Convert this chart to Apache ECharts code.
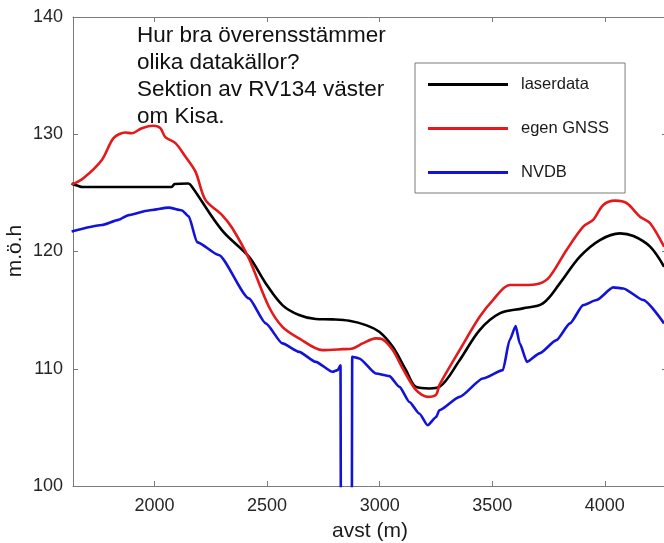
<!DOCTYPE html>
<html>
<head>
<meta charset="utf-8">
<script src="https://cdn.jsdelivr.net/npm/echarts@6/dist/echarts.min.js"></script>
<style>
  html, body { margin: 0; padding: 0; background: #fff; }
  #chart { width: 664px; height: 543px; }
</style>
</head>
<body>
<div id="chart"></div>
<script>
  // laserdata (black)
  const laserDist = [1632, 1660, 1680, 1800, 1950, 2075, 2090, 2150, 2167, 2300, 2419, 2494, 2568, 2642, 2716, 2790, 2865, 2939, 2998, 3058, 3117, 3162, 3221, 3265, 3355, 3444, 3533, 3636, 3725, 3800, 3889, 3978, 4067, 4127, 4201, 4263]
  const laserH = [125.8, 125.6, 125.5, 125.5, 125.5, 125.5, 125.75, 125.8, 125.5, 121.8, 119.56, 117.28, 115.43, 114.58, 114.24, 114.21, 114.09, 113.72, 113.15, 111.87, 109.88, 108.45, 108.32, 108.45, 110.73, 113.3, 114.72, 115.15, 115.58, 117.28, 119.56, 120.98, 121.55, 121.32, 120.41, 118.7]

  // egen GNSS (red)
  const gnssDist = [1632, 1684, 1766, 1818, 1870, 1899, 1944, 1996, 2026, 2048, 2093, 2137, 2182, 2226, 2300, 2345, 2419, 2508, 2568, 2642, 2746, 2835, 2880, 2924, 2983, 3013, 3058, 3102, 3162, 3213, 3251, 3265, 3355, 3444, 3503, 3577, 3636, 3710, 3755, 3830, 3904, 3948, 3993, 4045, 4097, 4156, 4201, 4263]
  const gnssH = [125.7, 126.25, 127.81, 129.67, 130.15, 130.09, 130.52, 130.72, 130.52, 129.75, 129.24, 128.1, 126.81, 124.4, 123.1, 122.0, 119.4, 115.29, 113.58, 112.59, 111.59, 111.67, 111.73, 112.16, 112.59, 112.5, 111.59, 110.03, 108.17, 107.6, 107.8, 108.6, 111.59, 114.43, 115.86, 117.14, 117.14, 117.28, 117.85, 120.13, 122.12, 122.69, 123.97, 124.34, 124.12, 122.97, 122.41, 120.41]

  // NVDB (blue)
  const nvdbDist = [1632, 1766, 1840, 1885, 1974, 2063, 2122, 2152, 2189, 2285, 2419, 2494, 2568, 2642, 2716, 2790, 2813, 2826, 2828, 2876, 2878, 2909, 2983, 3043, 3088, 3132, 3176, 3213, 3251, 3265, 3355, 3458, 3547, 3577, 3604, 3622, 3654, 3710, 3785, 3845, 3904, 3963, 4037, 4082, 4171, 4263]
  const nvdbH = [121.7, 122.26, 122.7, 123.1, 123.5, 123.74, 123.5, 123.0, 120.8, 119.7, 116.0, 113.87, 112.16, 111.44, 110.59, 109.74, 109.88, 110.3, 95, 95, 111.02, 110.88, 109.6, 109.37, 108.45, 107.17, 106.18, 105.18, 105.89, 106.46, 107.6, 109.17, 109.88, 112.44, 113.64, 112.16, 110.59, 111.31, 112.44, 113.87, 115.43, 115.86, 116.94, 116.85, 115.86, 113.87]

  const xTicks = [2000, 2500, 3000, 3500, 4000]
  const titleLines = ['Hur bra överensstämmer', 'olika datakällor?', 'Sektion av RV134 väster', 'om Kisa.']

  const font = 'Liberation Sans, Arial, sans-serif'
  const axisGray = '#7a7a7a'

  const pairs = (xs, ys) => xs.map((x, i) => [x, ys[i]])

  const lineSeries = (name, color, xs, ys, smooth, mono) => ({
    name: name,
    type: 'line',
    data: pairs(xs, ys),
    showSymbol: false,
    symbol: 'none',
    smooth: smooth,
    smoothMonotone: mono,
    clip: true,
    lineStyle: { color: color, width: 2.6 },
    itemStyle: { color: color },
  })

  const chart = echarts.init(document.getElementById('chart'))
  const option = {
    animation: false,
    backgroundColor: '#ffffff',
    grid: { left: 73, right: -3, top: 17, bottom: 57, outerBoundsMode: 'none' },
    legend: {
      orient: 'vertical',
      left: 415,
      top: 63,
      data: ['laserdata', 'egen GNSS', 'NVDB'],
      icon: 'rect',
      itemWidth: 80,
      itemHeight: 3,
      itemGap: 27,
      padding: [13, 16, 12, 13],
      borderColor: '#7d7d7d',
      borderWidth: 1,
      backgroundColor: '#ffffff',
      textStyle: { fontFamily: font, fontSize: 16.5, color: '#1a1a1a', padding: [0, 0, 0, 8] },
    },
    xAxis: [{
      type: 'value',
      min: 1638,
      max: 4276,
      name: 'avst (m)',
      nameLocation: 'middle',
      nameGap: 35,
      nameTextStyle: { fontFamily: font, fontSize: 21, color: '#1a1a1a' },
      axisLine: { show: true, lineStyle: { color: axisGray, width: 1 } },
      axisTick: { show: true, inside: true, length: 5, customValues: xTicks, lineStyle: { color: axisGray } },
      axisLabel: {
        customValues: xTicks,
        formatter: v => String(v),
        margin: 11,
        fontFamily: font,
        fontSize: 18,
        color: '#262626',
      },
      splitLine: { show: false },
    }, {
      type: 'value',
      position: 'top',
      min: 1638,
      max: 4276,
      axisLine: { show: true, lineStyle: { color: axisGray, width: 1 } },
      axisTick: { show: true, inside: true, length: 5, customValues: xTicks, lineStyle: { color: axisGray } },
      axisLabel: { show: false },
      splitLine: { show: false },
    }],
    yAxis: [{
      type: 'value',
      min: 100,
      max: 140,
      interval: 10,
      axisLine: { show: true, lineStyle: { color: axisGray, width: 1 } },
      axisTick: { show: true, inside: true, length: 5, lineStyle: { color: axisGray } },
      axisLabel: { margin: 10, fontFamily: font, fontSize: 18, color: '#262626' },
      splitLine: { show: false },
    }, {
      type: 'value',
      position: 'right',
      min: 100,
      max: 140,
      interval: 10,
      axisLine: { show: true, lineStyle: { color: axisGray, width: 1 } },
      axisTick: { show: true, inside: true, length: 5, lineStyle: { color: axisGray } },
      axisLabel: { show: false },
      splitLine: { show: false },
    }],
    graphic: [{
      type: 'text',
      left: 137,
      top: 22,
      z: 100,
      style: {
        text: titleLines.join('\n'),
        font: '22.5px ' + font,
        lineHeight: 27.2,
        fill: '#111111',
      },
    }, {
      // y axis title
      type: 'text',
      x: 15,
      y: 251,
      rotation: Math.PI / 2,
      z: 100,
      style: {
        text: 'm.ö.h',
        font: '21px ' + font,
        align: 'center',
        verticalAlign: 'middle',
        fill: '#1a1a1a',
      },
    }],
    series: [
      lineSeries('laserdata', '#000000', laserDist, laserH, 0.35, null),
      lineSeries('egen GNSS', '#e3191c', gnssDist, gnssH, 0.3, null),
      lineSeries('NVDB', '#1212d8', nvdbDist, nvdbH, 0.2, 'x'),
    ],
  }
  chart.setOption(option)
</script>
</body>
</html>
